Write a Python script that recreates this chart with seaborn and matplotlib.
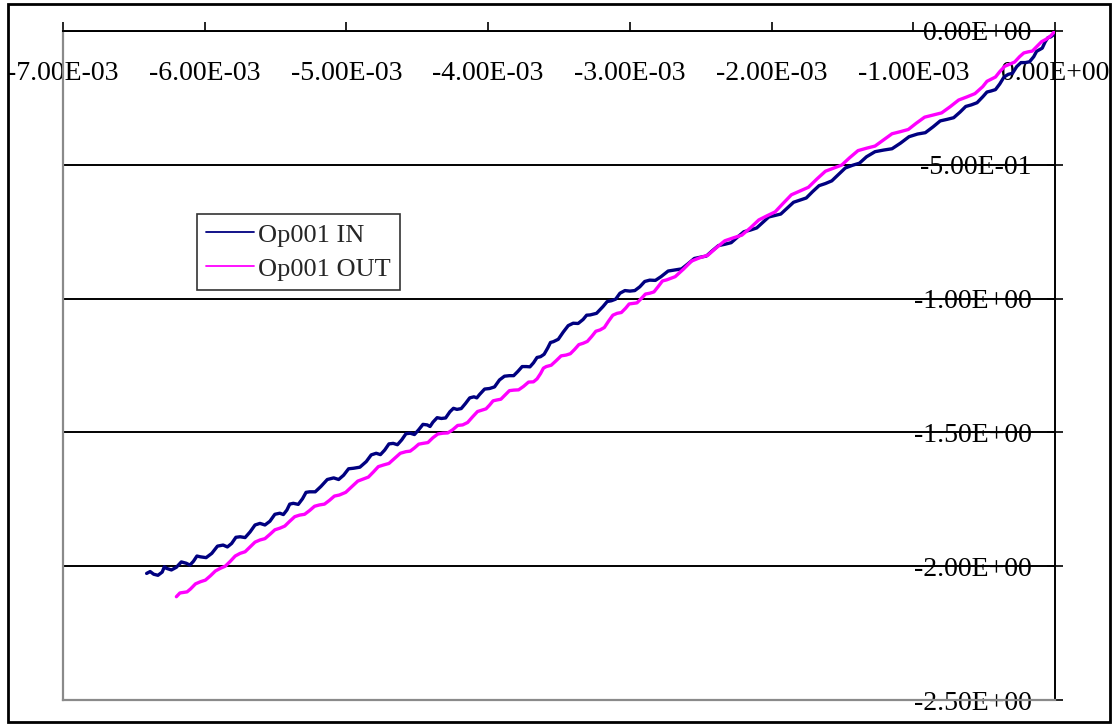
import matplotlib
matplotlib.use("Agg")
import matplotlib.pyplot as plt
import matplotlib.ticker as mticker
from matplotlib.patches import Rectangle
import seaborn as sns
import pandas as pd

# ---------------- data ----------------
# x values in units of 1E-03
in_x = [-6.41, -6.385, -6.36, -6.33, -6.30, -6.285, -6.27, -6.235, -6.20, -6.165,
        -6.13, -6.105, -6.08, -6.055, -6.03, -5.99, -5.95, -5.91, -5.87, -5.84,
        -5.81, -5.78, -5.75, -5.715, -5.68, -5.645, -5.61, -5.575, -5.54, -5.505,
        -5.47, -5.445, -5.42, -5.40, -5.375, -5.34, -5.31, -5.285, -5.26, -5.22,
        -5.18, -5.135, -5.09, -5.055, -5.02, -4.985, -4.95, -4.905, -4.86, -4.825,
        -4.79, -4.76, -4.73, -4.70, -4.67, -4.64, -4.61, -4.58, -4.55, -4.52,
        -4.49, -4.46, -4.43, -4.41, -4.39, -4.36, -4.33, -4.30, -4.27, -4.245,
        -4.22, -4.19, -4.16, -4.13, -4.10, -4.08, -4.06, -4.025, -3.99, -3.955,
        -3.92, -3.885, -3.85, -3.82, -3.79, -3.76, -3.73, -3.705, -3.68, -3.655,
        -3.63, -3.605, -3.58, -3.56, -3.54, -3.505, -3.47, -3.435, -3.40, -3.365,
        -3.33, -3.305, -3.28, -3.235, -3.19, -3.16, -3.13, -3.10, -3.07, -3.035,
        -3.00, -2.965, -2.93, -2.895, -2.86, -2.82, -2.78, -2.73, -2.68, -2.635,
        -2.59, -2.545, -2.50, -2.46, -2.42, -2.375, -2.33, -2.285, -2.24, -2.195,
        -2.15, -2.105, -2.06, -2.02, -1.98, -1.935, -1.89, -1.845, -1.80, -1.755,
        -1.71, -1.665, -1.62, -1.575, -1.53, -1.48, -1.43, -1.38, -1.33, -1.27,
        -1.21, -1.15, -1.09, -1.03, -0.97, -0.915, -0.86, -0.81, -0.76, -0.715,
        -0.67, -0.63, -0.59, -0.55, -0.51, -0.48, -0.45, -0.42, -0.39, -0.36,
        -0.33, -0.30, -0.27, -0.24, -0.21, -0.18, -0.15, -0.13, -0.11, -0.09,
        -0.07, -0.05, -0.03, -0.015, 0.00]
in_y = [-2.027, -2.020, -2.030, -2.034, -2.022, -2.002, -2.008, -2.014, -2.004, -1.984,
        -1.989, -1.996, -1.982, -1.962, -1.965, -1.968, -1.952, -1.925, -1.921, -1.928,
        -1.915, -1.892, -1.890, -1.893, -1.872, -1.846, -1.840, -1.846, -1.832, -1.806,
        -1.802, -1.807, -1.790, -1.768, -1.765, -1.769, -1.748, -1.724, -1.722, -1.722,
        -1.702, -1.676, -1.670, -1.676, -1.660, -1.636, -1.634, -1.630, -1.609, -1.584,
        -1.578, -1.583, -1.566, -1.543, -1.541, -1.546, -1.528, -1.505, -1.503, -1.508,
        -1.490, -1.470, -1.472, -1.478, -1.462, -1.445, -1.448, -1.446, -1.423, -1.410,
        -1.414, -1.411, -1.392, -1.371, -1.367, -1.371, -1.358, -1.338, -1.336, -1.330,
        -1.304, -1.290, -1.288, -1.288, -1.272, -1.254, -1.254, -1.255, -1.240, -1.220,
        -1.217, -1.208, -1.185, -1.164, -1.161, -1.152, -1.125, -1.101, -1.092, -1.093,
        -1.078, -1.062, -1.061, -1.055, -1.030, -1.011, -1.008, -1.002, -0.980, -0.970,
        -0.972, -0.970, -0.956, -0.936, -0.931, -0.932, -0.918, -0.897, -0.893, -0.889,
        -0.870, -0.850, -0.845, -0.841, -0.822, -0.802, -0.797, -0.791, -0.770, -0.750,
        -0.744, -0.736, -0.714, -0.695, -0.690, -0.684, -0.662, -0.640, -0.632, -0.624,
        -0.600, -0.578, -0.570, -0.560, -0.537, -0.512, -0.502, -0.494, -0.470, -0.451,
        -0.445, -0.440, -0.419, -0.395, -0.385, -0.380, -0.358, -0.336, -0.330, -0.324,
        -0.303, -0.282, -0.276, -0.268, -0.246, -0.228, -0.224, -0.219, -0.198, -0.172,
        -0.162, -0.158, -0.133, -0.118, -0.118, -0.115, -0.096, -0.076, -0.070, -0.064,
        -0.041, -0.025, -0.022, -0.016, 0.000]

out_x = [-6.20, -6.175, -6.15, -6.125, -6.10, -6.065, -6.03, -5.995, -5.96, -5.925,
         -5.89, -5.855, -5.82, -5.785, -5.75, -5.715, -5.68, -5.645, -5.61, -5.575,
         -5.54, -5.505, -5.47, -5.435, -5.40, -5.365, -5.33, -5.295, -5.26, -5.225,
         -5.19, -5.155, -5.12, -5.085, -5.05, -5.005, -4.96, -4.92, -4.88, -4.845,
         -4.81, -4.775, -4.74, -4.70, -4.66, -4.62, -4.58, -4.55, -4.52, -4.49,
         -4.46, -4.425, -4.39, -4.355, -4.32, -4.285, -4.25, -4.215, -4.18, -4.145,
         -4.11, -4.075, -4.04, -4.015, -3.99, -3.965, -3.94, -3.91, -3.88, -3.85,
         -3.82, -3.785, -3.75, -3.715, -3.68, -3.655, -3.63, -3.61, -3.59, -3.555,
         -3.52, -3.485, -3.45, -3.42, -3.39, -3.36, -3.33, -3.30, -3.27, -3.24,
         -3.21, -3.18, -3.15, -3.12, -3.09, -3.06, -3.03, -3.005, -2.98, -2.95,
         -2.92, -2.89, -2.86, -2.83, -2.80, -2.77, -2.74, -2.68, -2.62, -2.565,
         -2.51, -2.45, -2.39, -2.33, -2.27, -2.21, -2.15, -2.09, -2.03, -1.975,
         -1.92, -1.86, -1.80, -1.74, -1.68, -1.62, -1.56, -1.505, -1.45, -1.39,
         -1.33, -1.27, -1.21, -1.15, -1.09, -1.035, -0.98, -0.92, -0.86, -0.80,
         -0.74, -0.68, -0.62, -0.565, -0.51, -0.48, -0.45, -0.42, -0.39, -0.355,
         -0.32, -0.285, -0.25, -0.22, -0.19, -0.16, -0.13, -0.095, -0.06, -0.03,
         0.00]
out_y = [-2.114, -2.100, -2.098, -2.096, -2.085, -2.066, -2.058, -2.052, -2.036, -2.018,
         -2.008, -2.000, -1.982, -1.962, -1.952, -1.946, -1.928, -1.910, -1.902, -1.897,
         -1.881, -1.864, -1.858, -1.850, -1.832, -1.815, -1.809, -1.806, -1.792, -1.776,
         -1.771, -1.768, -1.754, -1.738, -1.734, -1.724, -1.702, -1.682, -1.674, -1.667,
         -1.648, -1.628, -1.622, -1.616, -1.597, -1.578, -1.572, -1.570, -1.558, -1.544,
         -1.541, -1.538, -1.520, -1.506, -1.503, -1.502, -1.490, -1.474, -1.472, -1.463,
         -1.442, -1.422, -1.416, -1.412, -1.398, -1.382, -1.379, -1.376, -1.360, -1.344,
         -1.342, -1.341, -1.328, -1.312, -1.311, -1.300, -1.280, -1.260, -1.254, -1.249,
         -1.232, -1.214, -1.211, -1.206, -1.190, -1.172, -1.167, -1.160, -1.142, -1.122,
         -1.117, -1.108, -1.084, -1.062, -1.055, -1.052, -1.036, -1.020, -1.018, -1.016,
         -1.000, -0.983, -0.980, -0.975, -0.955, -0.934, -0.930, -0.918, -0.889, -0.860,
         -0.848, -0.838, -0.810, -0.784, -0.773, -0.763, -0.736, -0.706, -0.690, -0.676,
         -0.645, -0.612, -0.598, -0.584, -0.553, -0.524, -0.512, -0.501, -0.474, -0.447,
         -0.438, -0.430, -0.407, -0.384, -0.376, -0.368, -0.345, -0.322, -0.314, -0.306,
         -0.283, -0.258, -0.246, -0.234, -0.208, -0.188, -0.180, -0.172, -0.152, -0.132,
         -0.124, -0.116, -0.096, -0.082, -0.078, -0.075, -0.059, -0.040, -0.030, -0.018,
         0.000]

x_scale = 1e-3
series_names = ["Op001 IN", "Op001 OUT"]
series_colors = ["#000080", "#FF00FF"]
x_ticks = [-7e-3, -6e-3, -5e-3, -4e-3, -3e-3, -2e-3, -1e-3, 0.0]
y_ticks = [0.0, -0.5, -1.0, -1.5, -2.0, -2.5]

df = pd.concat([
    pd.DataFrame({"x": [v * x_scale for v in in_x], "y": in_y, "series": series_names[0]}),
    pd.DataFrame({"x": [v * x_scale for v in out_x], "y": out_y, "series": series_names[1]}),
], ignore_index=True)

# ---------------- figure ----------------
sns.set_style("white")
plt.rcParams["font.family"] = ["Liberation Serif", "DejaVu Serif"]

W, H = 1113, 724
fig = plt.figure(figsize=(W / 100, H / 100), dpi=100)
ax = fig.add_axes([63 / W, 1 - 700 / H, (1055 - 63) / W, (700 - 31) / H])

sns.lineplot(data=df, x="x", y="y", hue="series", palette=series_colors,
             estimator=None, sort=False, linewidth=2.4, ax=ax, zorder=3)

ax.set_xlim(-7e-3, 0)
ax.set_ylim(-2.5, 0)
ax.set_xlabel("")
ax.set_ylabel("")

fmt = mticker.FuncFormatter(lambda v, p: "%.2E" % v)
ax.xaxis.set_major_locator(mticker.FixedLocator(x_ticks))
ax.yaxis.set_major_locator(mticker.FixedLocator(y_ticks))
ax.xaxis.set_major_formatter(fmt)
ax.yaxis.set_major_formatter(fmt)

ax.xaxis.tick_top()
ax.yaxis.tick_right()
ax.tick_params(axis="x", direction="out", length=6.5, width=1.2, color="black",
               pad=-46, labelsize=20, labelcolor="black")
ax.tick_params(axis="y", direction="inout", length=11.5, width=1.2, color="black",
               pad=-22.5, labelsize=20, labelcolor="black")
for lab in ax.get_yticklabels():
    lab.set_horizontalalignment("right")

ax.grid(axis="y", color="black", linewidth=1.4, zorder=1)
ax.grid(axis="x", visible=False)
ax.set_axisbelow(True)

for side in ["top", "right"]:
    ax.spines[side].set_color("black")
    ax.spines[side].set_linewidth(1.4)
    ax.spines[side].set_visible(True)
for side in ["left", "bottom"]:
    ax.spines[side].set_color("#8a8a8a")
    ax.spines[side].set_linewidth(1.6)
    ax.spines[side].set_visible(True)

leg = ax.legend(loc="upper left", bbox_to_anchor=((197 - 63) / 992, (700 - 214) / 669),
                frameon=True, fancybox=False, fontsize=19, handlelength=1.8,
                handletextpad=0.15, borderpad=0.35, labelspacing=0.4,
                borderaxespad=0, title=None)
leg.get_frame().set_edgecolor("black")
leg.get_frame().set_linewidth(1.2)
for line in leg.get_lines():
    line.set_linewidth(1.3)

# outer chart-area border
fig.patches.append(Rectangle((8 / W, 1 - 722 / H), (1110 - 8) / W, (722 - 4) / H,
                             transform=fig.transFigure, fill=False,
                             edgecolor="black", linewidth=2.0))

fig.savefig("out.png", dpi=100)
